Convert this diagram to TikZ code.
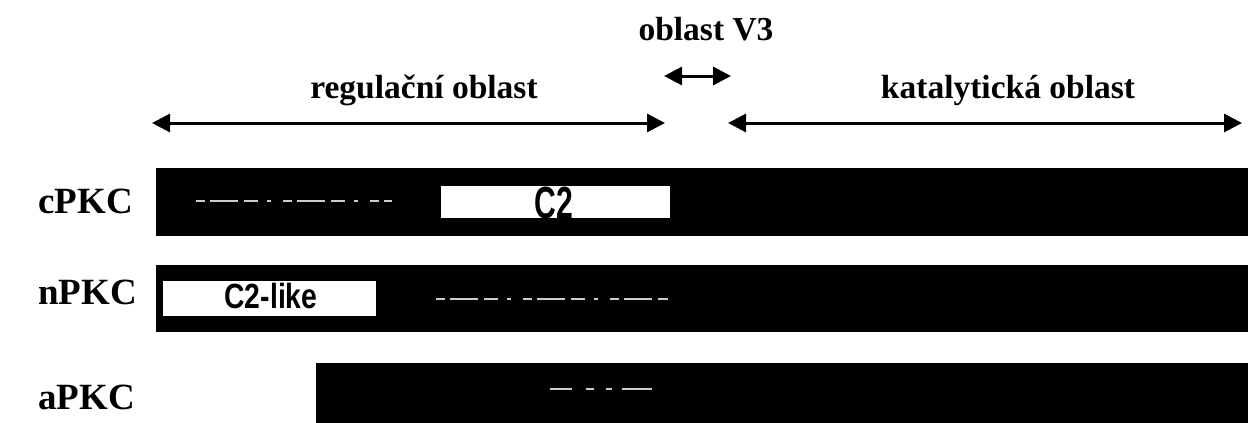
\documentclass[tikz,border=0pt]{standalone}
\usepackage{fontspec}
\setmainfont{Liberation Serif}
\newfontfamily\arialfont{Liberation Sans}
\usetikzlibrary{arrows.meta}
\tikzset{
  lbl/.style={font=\fontsize{33.5}{36}\selectfont\bfseries, inner sep=0pt, anchor=base},
  rowlbl/.style={font=\fontsize{37}{40}\selectfont\bfseries, inner sep=0pt, anchor=base west},
  span/.style={line width=3pt, {Triangle[length=18pt,width=18pt]}-{Triangle[length=18pt,width=18pt]}},
  bar/.style={fill=black, draw=none},
  dombox/.style={fill=white, draw=none},
  domtxt/.style={font=\arialfont\bfseries, inner sep=0pt},
  speck/.style={draw=white!80!black, line width=2pt, dash pattern=on 9pt off 5pt on 28pt off 6pt on 14pt off 9pt on 4pt off 12pt}
}
\begin{document}
\begin{tikzpicture}[x=1pt,y=-1pt]
\useasboundingbox (0,0) rectangle (1248,423);
% headers
\node[lbl] (v3) at (706,40) {oblast V3};
\node[lbl] (reg) at (424,98) {regulační oblast};
\node[lbl] (kat) at (1008,98) {katalytická oblast};
% span arrows
\coordinate (v3a) at (664,76);
\coordinate (v3b) at (731,76);
\coordinate (rega) at (152,123);
\coordinate (regb) at (665,123);
\coordinate (kata) at (728,123);
\coordinate (katb) at (1242,123);
\draw[span] (v3a) -- (v3b);
\draw[span] (rega) -- (regb);
\draw[span] (kata) -- (katb);
% row labels
\node[rowlbl] (c) at (38,213) {cPKC};
\node[rowlbl] (n) at (38,304) {nPKC};
\node[rowlbl] (a) at (38,409) {aPKC};
% bars
\path[bar] (156,168) rectangle (1248,236);
\path[bar] (156,265) rectangle (1248,332);
\path[bar] (316,363) rectangle (1248,423);
% speckles
\draw[speck] (196,201) -- (392,201);
\draw[speck] (436,299) -- (668,299);
\draw[speck, dash pattern=on 22pt off 14pt on 8pt off 12pt on 6pt off 10pt on 30pt] (550,389) -- (668,389);
% domain boxes
\path[dombox] (441,186) rectangle (670,218);
\node[domtxt, font=\arialfont\bfseries\fontsize{45}{46}\selectfont, xscale=0.67] (c2) at (554,203) {C2};
\path[dombox] (163,281) rectangle (376,316);
\node[domtxt, font=\arialfont\bfseries\fontsize{35}{36}\selectfont, xscale=0.81] (c2l) at (271,296) {C2-like};
\end{tikzpicture}
\end{document}
